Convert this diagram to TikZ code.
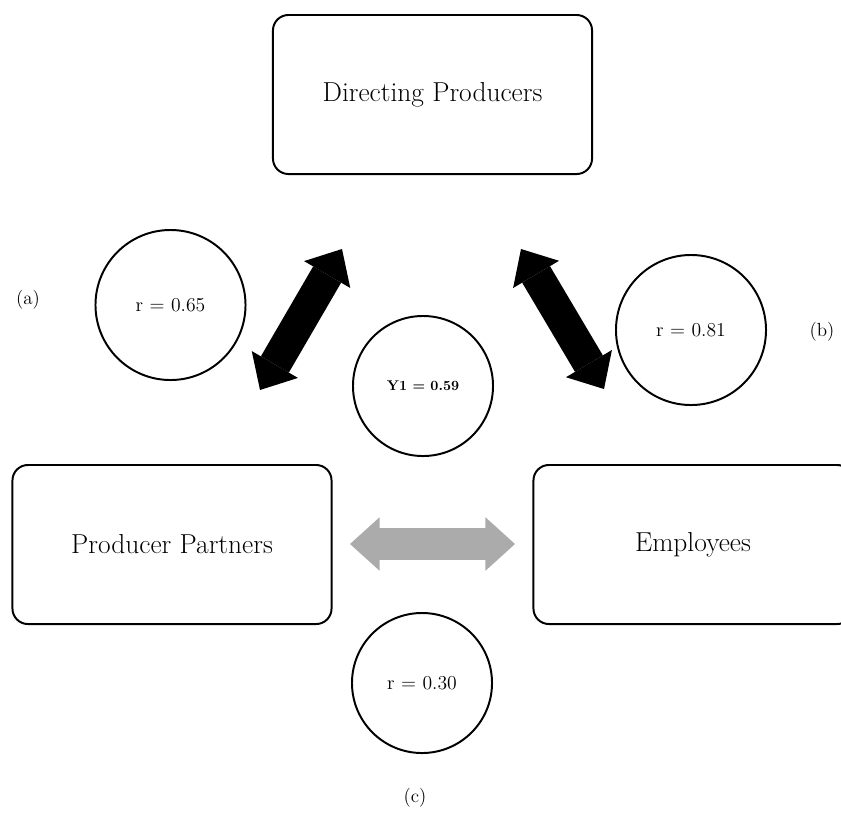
\documentclass[tikz,border=0pt]{standalone}
\usepackage{tikz}
\usetikzlibrary{positioning}
\usetikzlibrary{arrows.meta}
\definecolor{linkgray}{RGB}{171,171,171}
\tikzstyle{group}=[draw,line width=1.4pt,rounded corners=11pt,minimum width=7.975cm,minimum height=3.975cm,font=\fontsize{19.5}{23}\selectfont]
\tikzstyle{corr}=[circle,draw,line width=1.4pt,minimum size=3.75cm,inner sep=0pt,font=\fontsize{14}{16}\selectfont]
\tikzstyle{tag}=[font=\fontsize{13.5}{15}\selectfont]
\tikzstyle{link}=[line width=23pt,{Triangle[width=38pt,length=21pt,line width=0pt]}-{Triangle[width=38pt,length=21pt,line width=0pt]}]
\tikzstyle{shaft}=[line width=23pt,shorten <=18pt,shorten >=18pt]

\begin{document}
\begin{tikzpicture}[x=0.025cm,y=-0.025cm]
\clip (0,0) rectangle (841,812);

    \foreach \pos/\name/\txt in {{(432.5,94.5)/dp/Directing Producers}, {(172,544.5)/pp/Producer Partners}, {(693,544.5)/em/Employees}}
        \node[group] (\name) at \pos {\txt};

\node[corr] (ra) at (170.5,305) {r = 0.65};
\node[corr] (rb) at (691,330) {r = 0.81};
\node[corr,minimum size=3.5cm] (rc) at (422,683) {r = 0.30};
\node[corr,minimum size=3.5cm,font=\fontsize{10}{12}\selectfont\bfseries] (y1) at (423,386) {Y1 = 0.59};

\node[tag] (la) at (28,300) {(a)};
\node[tag] (lb) at (822,332) {(b)};
\node[tag] (lc) at (415,798) {(c)};

%arrows
\coordinate (a1) at (342,249); \coordinate (a2) at (260,390);
\coordinate (b1) at (521,249); \coordinate (b2) at (604,389);
\coordinate (c1) at (350,544); \coordinate (c2) at (515,544);
\draw[link] (a1) -- (a2);
\draw[link] (b1) -- (b2);
\draw[link,linkgray] (c1) -- (c2);
\draw[shaft,linkgray] (c1) -- (c2);

\end{tikzpicture}
\end{document}
